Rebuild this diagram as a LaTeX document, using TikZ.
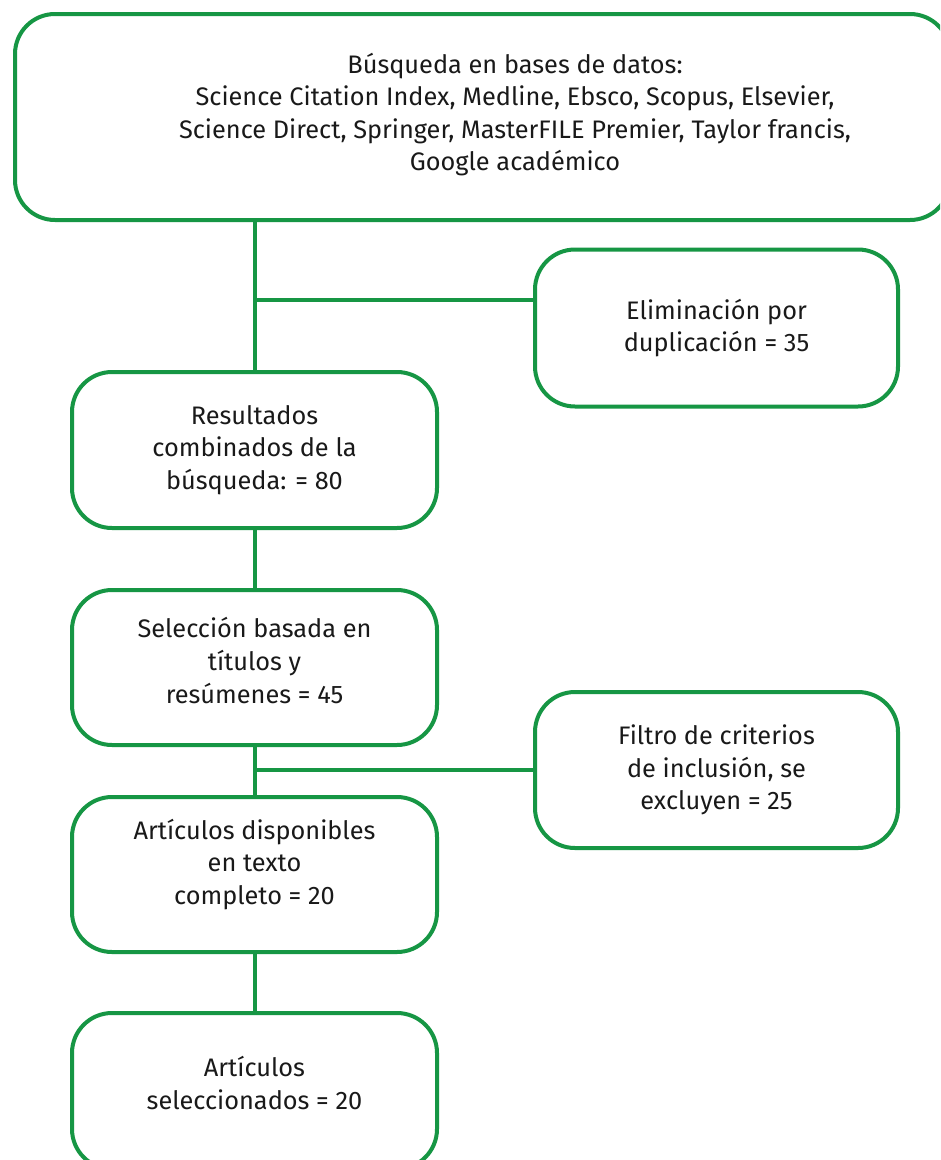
\documentclass[tikz,border=0pt]{standalone}
\usepackage{fontspec}
\setmainfont{Fira Sans}
\definecolor{boxgreen}{RGB}{22,150,68}
\definecolor{txt}{RGB}{25,25,25}
\begin{document}
\begin{tikzpicture}[x=0.75pt,y=-0.75pt,
  box/.style={draw=boxgreen,line width=3pt,rounded corners=30pt,fill=white,
    minimum width=#1*0.75pt,align=center,text=txt,inner sep=0pt},
  lbl/.style={text=txt,align=center,inner sep=0pt},
  conn/.style={draw=boxgreen,line width=3pt},
  every node/.append style={font=\fontsize{19pt}{24.4pt}\selectfont}]
\useasboundingbox[clip] (0,0) rectangle (940,1160);
\fill[white] (0,0) rectangle (940,1160);
\node[box=935,minimum height=206*0.75pt] (top) at (482.5,117) {};
\node[lbl] (toptext) at (515,114.5) {Búsqueda en bases de datos:\\Science Citation Index, Medline, Ebsco, Scopus, Elsevier,\\Science Direct, Springer, MasterFILE Premier, Taylor francis,\\Google académico};
\node[box=363,minimum height=157*0.75pt] (elim) at (716.5,328) {Eliminación por\\duplicación = 35};
\node[box=365,minimum height=156*0.75pt] (res) at (254.5,450) {Resultados\\combinados de la\\búsqueda: = 80};
\node[box=365,minimum height=155*0.75pt] (sel) at (254.5,667.5) {};
\node[lbl] (seltext) at ([yshift=5.25pt]sel.center) {Selección basada en\\títulos y\\resúmenes = 45};
\node[box=363,minimum height=156*0.75pt] (filt) at (716.5,770) {Filtro de criterios\\de inclusión, se\\excluyen = 25};
\node[box=365,minimum height=155*0.75pt] (disp) at (254.5,874.5) {};
\node[lbl] (disptext) at ([yshift=7.5pt]disp.center) {Artículos disponibles\\en texto\\completo = 20};
\node[box=365,minimum height=156*0.75pt] (fin) at (254.5,1091) {};
\node[lbl] (fintext) at ([yshift=6pt]fin.center) {Artículos\\seleccionados = 20};
\coordinate (j1) at (254.5,300);
\draw[conn] (top.south -| res.north) -- (res.north);
\draw[conn] (j1) -- (j1 -| elim.west);
\draw[conn] (res.south) -- (sel.north);
\draw[conn] (sel.south) -- (disp.north);
\draw[conn] (sel.south |- filt.west) -- (filt.west);
\draw[conn] (disp.south) -- (fin.north);
\end{tikzpicture}
\end{document}
